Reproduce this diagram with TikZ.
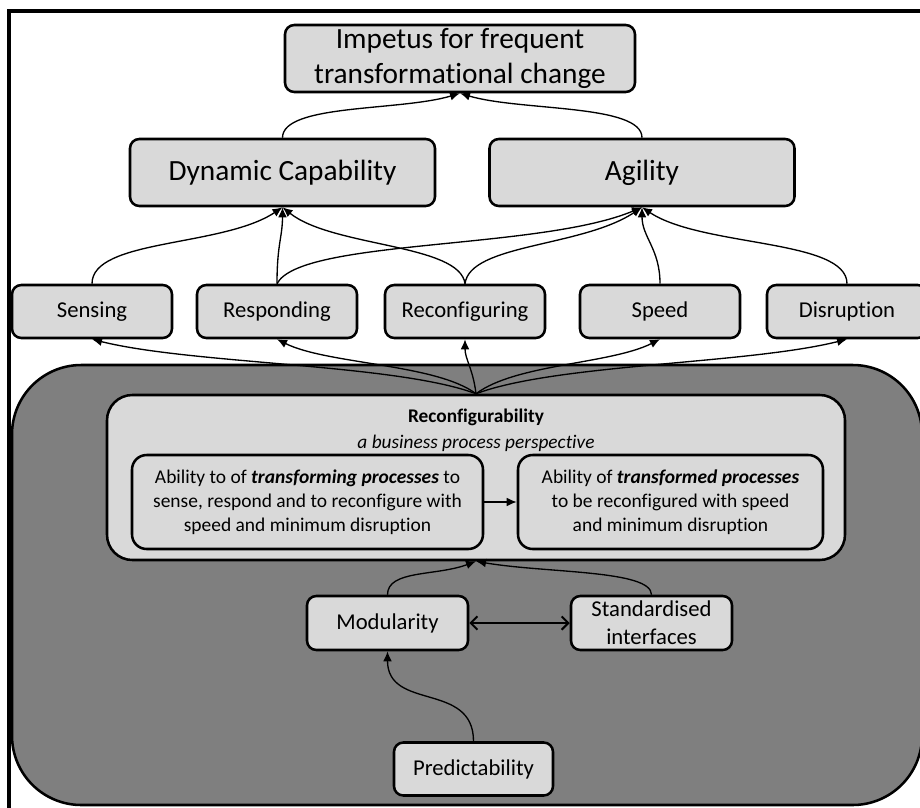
\documentclass[tikz,border=0pt]{standalone}
\usepackage{fontspec}
\setmainfont{Carlito}[Ligatures=NoCommon]
\usetikzlibrary{arrows.meta}
\definecolor{boxgray}{HTML}{D9D9D9}
\definecolor{darkpanel}{HTML}{7F7F7F}

\tikzset{
  gbox/.style={draw=black, line width=1.9pt, fill=boxgray, rounded corners=7pt,
    align=center, inner sep=0pt, text=black},
  topbox/.style={gbox, minimum height=50.25pt, font=\fontsize{22}{26.5}\selectfont},
  rowbox/.style={gbox, minimum width=120pt, minimum height=39.75pt,
    font=\fontsize{17}{21}\selectfont},
  innerbox/.style={gbox, rounded corners=11pt, minimum height=70.5pt,
    font=\fontsize{14.6}{18}\selectfont},
  link/.style={line width=1pt, -{Latex[length=7.5pt,width=6.5pt]}},
}

\begin{document}
\begin{tikzpicture}[x=0.75pt,y=-0.75pt]
\useasboundingbox (0,0) rectangle (920,807);
\clip (0,0) rectangle (920,807);

% outer frame (runs off the right and bottom edges)
\draw[line width=2.4pt] (9,11) rectangle (960,850);

% dark panel holding the reconfigurability part
\draw[line width=1.9pt, fill=darkpanel, rounded corners=52pt] (12,365) rectangle (922,805);

% top level
\node[topbox, minimum width=262.5pt] (impetus) at (460,58.5)
  {Impetus for frequent\\transformational change};
\node[topbox, minimum width=228.75pt] (dyncap) at (282.5,172.5) {Dynamic Capability};
\node[topbox, minimum width=228.75pt] (agility) at (642,172.5) {Agility};

% capability row
\node[rowbox] (sensing) at (92,311.5) {Sensing};
\node[rowbox] (responding) at (277,311.5) {Responding};
\node[rowbox] (reconfiguring) at (465,311.5) {Reconfiguring};
\node[rowbox] (speed) at (660,311.5) {Speed};
\node[rowbox] (disruption) at (847,311.5) {Disruption};

% reconfigurability block
\node[gbox, rounded corners=19pt, minimum width=553.5pt, minimum height=123.75pt]
  (reconf) at (476,477.5) {};
\node[font=\fontsize{14.5}{19.5}\selectfont, align=center] (title) at (476,430)
  {\textbf{Reconfigurability}\\\textit{a business process perspective}};
\node[innerbox, minimum width=263.25pt] (transforming) at (307.5,502)
  {Ability to of \textbf{\textit{transforming processes}} to\\
   sense, respond and to reconfigure with\\speed and minimum disruption};
\node[innerbox, minimum width=228.75pt] (transformed) at (670.5,502)
  {Ability of \textbf{\textit{transformed processes}}\\
   to be reconfigured with speed\\and minimum disruption};

% enablers
\node[rowbox, minimum width=120.75pt, minimum height=40.5pt] (modularity) at (387.5,623) {Modularity};
\node[rowbox, minimum width=120.75pt, minimum height=40.5pt] (standard) at (651.5,623)
  {Standardised\\interfaces};
\node[rowbox, minimum width=119.25pt] (predict) at (473.5,769) {Predictability};

% links to the impetus
\draw[link] (dyncap.north) .. controls +(0,-34) and +(-60,18) .. (impetus.south);
\draw[link] (agility.north) .. controls +(0,-34) and +(60,18) .. (impetus.south);

% links into dynamic capability
\draw[link] (sensing.north) .. controls +(0,-45) and +(-60,40) .. (dyncap.south);
\draw[link] (responding.north) .. controls +(0,-40) and +(0,30) .. (dyncap.south);
\draw[link] (reconfiguring.north) .. controls +(-5,-40) and +(50,40) .. (dyncap.south);

% links into agility
\draw[link] (responding.north) .. controls +(23,-45) and +(-102,43) .. (agility.south);
\draw[link] (reconfiguring.north) .. controls +(5,-40) and +(-60,40) .. (agility.south);
\draw[link] (speed.north) .. controls +(0,-35) and +(0,30) .. (agility.south);
\draw[link] (disruption.north) .. controls +(0,-45) and +(60,40) .. (agility.south);

% reconfigurability feeds every capability
\draw[link] (reconf.north) .. controls +(-80,-30) and +(100,25) .. (sensing.south);
\draw[link] (reconf.north) .. controls +(-40,-30) and +(50,25) .. (responding.south);
\draw[link] (reconf.north) .. controls +(-3,-25) and +(0,20) .. (reconfiguring.south);
\draw[link] (reconf.north) .. controls +(40,-30) and +(-50,25) .. (speed.south);
\draw[link] (reconf.north) .. controls +(80,-30) and +(-100,25) .. (disruption.south);

% inside the block
\draw[link] (transforming.east) -- (transformed.west);

% enablers feeding reconfigurability
\draw[link] (modularity.north) .. controls +(0,-25) and +(-40,15) .. (reconf.south);
\draw[link] (standard.north) .. controls +(0,-25) and +(70,12) .. (reconf.south);
\draw[line width=1.5pt, {Straight Barb[length=5pt,width=10pt]}-{Straight Barb[length=5pt,width=10pt]}]
  (modularity.east) -- (standard.west);
\draw[link] (predict.north) .. controls +(0,-60) and +(0,60) .. (modularity.south);
\end{tikzpicture}
\end{document}
